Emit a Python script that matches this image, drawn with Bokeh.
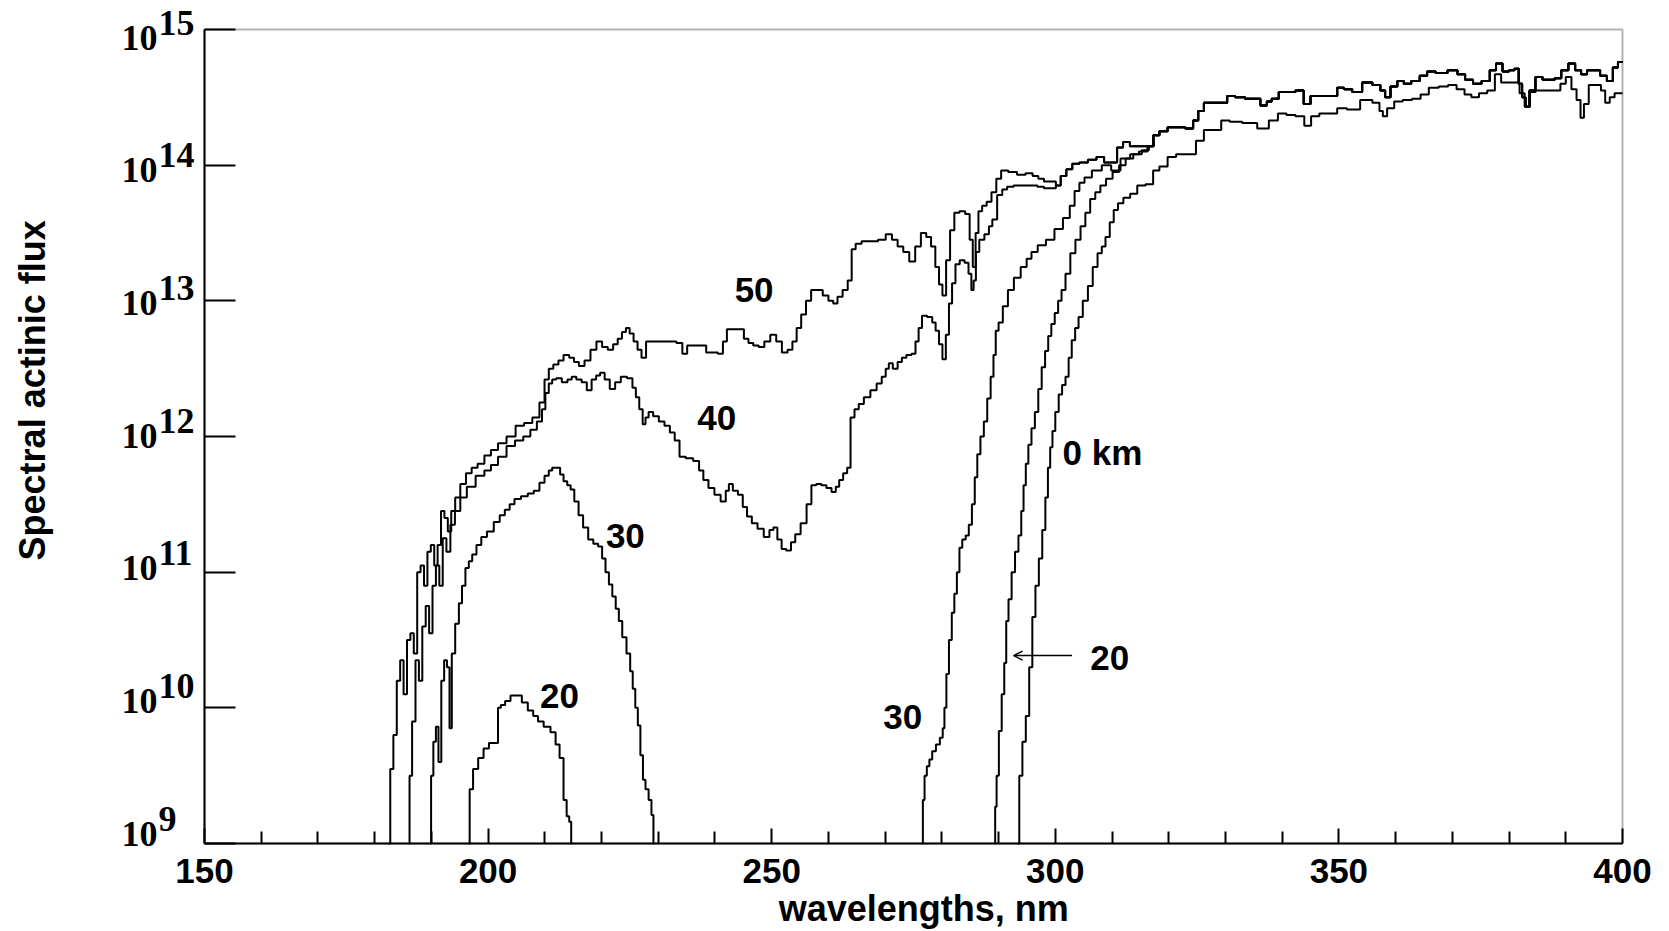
import numpy as np
from bokeh.plotting import figure
from bokeh.models import (Range1d, FixedTicker, Label, LabelSet, ColumnDataSource,
                          Arrow, OpenHead, CustomJSTickFormatter, BoxAnnotation)
from bokeh.embed import file_html
from bokeh.resources import INLINE

# Spectral actinic flux at several altitudes.
# Each entry: (wavelength in nm, log10 of flux).

km50 = [
    (182.5, 9.0), (183.0, 9.55), (183.6, 9.8), (184.2, 10.2), (184.8, 10.35), (185.4, 10.1),
    (186.0, 10.5), (186.6, 10.55), (187.2, 10.4), (187.8, 11.0), (188.4, 11.05), (189.0, 10.9),
    (189.6, 11.15), (190.2, 11.2), (190.8, 11.05), (191.4, 11.2), (192.0, 11.45), (192.6, 11.4),
    (193.2, 11.3), (193.8, 11.45), (194.6, 11.55), (195.6, 11.65), (196.6, 11.73), (197.6, 11.77),
    (198.7, 11.8), (200.0, 11.86), (201.0, 11.9), (202.5, 11.95), (204.0, 12.0), (205.7, 12.08),
    (207.0, 12.1), (208.6, 12.14), (209.5, 12.25), (210.4, 12.42), (211.0, 12.5), (212.0, 12.53),
    (212.8, 12.56), (213.8, 12.6), (214.8, 12.58), (215.5, 12.55), (216.5, 12.52), (217.5, 12.56),
    (218.6, 12.64), (219.6, 12.7), (220.6, 12.66), (221.6, 12.64), (222.5, 12.68), (223.2, 12.72),
    (224.0, 12.77), (224.6, 12.8), (225.3, 12.76), (226.0, 12.7), (226.7, 12.64), (227.4, 12.58),
    (228.3, 12.7), (229.5, 12.7), (231.0, 12.7), (232.5, 12.7), (233.9, 12.69), (234.6, 12.61),
    (235.6, 12.67), (236.8, 12.67), (238.0, 12.67), (238.9, 12.62), (240.0, 12.62), (241.0, 12.61),
    (241.8, 12.7), (242.4, 12.79), (243.5, 12.79), (244.7, 12.79), (245.5, 12.72), (246.3, 12.69),
    (247.2, 12.67), (248.2, 12.66), (249.2, 12.7), (250.3, 12.75), (251.3, 12.7), (252.3, 12.62),
    (253.3, 12.64), (254.0, 12.7), (254.8, 12.8), (255.6, 12.9), (256.5, 13.0), (257.4, 13.08),
    (258.5, 13.08), (259.5, 13.04), (260.5, 13.0), (261.2, 12.98), (262.0, 13.03), (263.0, 13.08),
    (263.8, 13.15), (264.4, 13.38), (265.2, 13.42), (266.5, 13.44), (268.0, 13.44), (269.5, 13.45),
    (270.7, 13.49), (271.7, 13.45), (272.7, 13.4), (273.7, 13.36), (274.8, 13.29), (275.8, 13.4),
    (276.8, 13.5), (277.7, 13.47), (278.5, 13.4), (279.2, 13.25), (279.8, 13.12), (280.4, 13.04),
    (281.1, 13.3), (281.8, 13.52), (282.6, 13.65), (283.6, 13.66), (284.6, 13.64), (285.2, 13.45),
    (285.7, 13.25), (286.2, 13.5), (286.7, 13.66), (287.5, 13.7), (288.3, 13.73), (289.2, 13.8),
    (290.0, 13.9), (290.9, 13.96), (292.5, 13.95), (294.0, 13.93), (295.5, 13.94), (296.5, 13.92),
    (297.5, 13.9), (298.5, 13.88), (299.7, 13.88), (300.5, 13.85), (301.4, 13.92), (302.5, 13.97),
    (303.5, 14.01), (305.0, 14.02), (306.5, 14.04), (308.0, 14.06), (309.2, 14.02), (310.3, 14.02),
    (311.5, 14.13), (312.4, 14.17), (313.9, 14.14), (316.8, 14.14), (317.7, 14.22), (319.0, 14.25),
    (320.6, 14.28), (322.0, 14.28), (323.8, 14.27), (324.8, 14.33), (325.6, 14.4), (326.8, 14.46),
    (328.0, 14.46), (329.7, 14.46), (330.9, 14.51), (332.5, 14.5), (334.4, 14.49), (335.5, 14.49),
    (336.8, 14.44), (337.8, 14.47), (338.5, 14.49), (340.3, 14.54), (341.5, 14.54), (343.2, 14.55),
    (344.4, 14.45), (345.6, 14.51), (347.0, 14.51), (349.1, 14.51), (350.3, 14.57), (351.5, 14.56),
    (353.2, 14.54), (355.0, 14.61), (356.8, 14.59), (357.8, 14.55), (358.5, 14.5), (359.7, 14.58),
    (360.9, 14.62), (362.0, 14.6), (363.5, 14.62), (365.0, 14.66), (366.1, 14.69), (368.0, 14.68),
    (370.3, 14.7), (371.5, 14.67), (373.0, 14.63), (374.3, 14.6), (376.0, 14.62), (377.2, 14.7),
    (378.2, 14.75), (379.5, 14.69), (380.5, 14.7), (381.4, 14.71), (382.0, 14.6), (382.6, 14.5),
    (383.2, 14.43), (384.0, 14.55), (385.3, 14.65), (386.5, 14.63), (387.5, 14.63), (388.6, 14.64),
    (389.8, 14.7), (391.1, 14.75), (392.2, 14.7), (393.2, 14.67), (394.3, 14.7), (395.5, 14.7),
    (396.6, 14.66), (397.9, 14.62), (398.7, 14.72), (399.7, 14.76), (400.0, 14.76),
]

# 40 km: below 50 km through the Hartley band, the same as 50 km beyond ~301 nm
km40 = [
    (186.0, 9.0), (186.3, 9.5), (186.9, 9.9), (187.5, 10.35), (188.1, 10.2), (188.7, 10.6),
    (189.3, 10.75), (189.9, 10.55), (190.5, 10.9), (191.1, 11.05), (191.7, 10.9), (192.3, 11.25),
    (193.0, 11.15), (193.7, 11.35), (194.6, 11.45), (195.6, 11.55), (196.9, 11.63), (198.7, 11.71),
    (200.0, 11.75), (201.0, 11.79), (202.5, 11.85), (204.0, 11.93), (205.5, 11.97), (206.9, 12.0),
    (208.0, 12.05), (209.2, 12.11), (209.8, 12.2), (210.4, 12.32), (211.0, 12.39), (211.6, 12.42),
    (212.4, 12.43), (213.6, 12.4), (214.4, 12.42), (215.1, 12.44), (216.0, 12.42), (217.0, 12.4),
    (217.8, 12.34), (218.7, 12.42), (219.4, 12.45), (220.1, 12.47), (221.0, 12.42), (221.9, 12.35),
    (222.9, 12.4), (223.9, 12.44), (225.1, 12.43), (225.8, 12.36), (226.3, 12.29), (227.0, 12.2),
    (227.5, 12.09), (228.0, 12.14), (228.6, 12.18), (229.6, 12.15), (230.6, 12.11), (231.6, 12.08),
    (232.5, 12.03), (233.3, 11.97), (234.2, 11.85), (235.5, 11.84), (236.8, 11.82), (237.6, 11.75),
    (238.3, 11.68), (239.4, 11.62), (240.4, 11.57), (241.6, 11.52), (242.2, 11.6), (242.7, 11.65),
    (243.6, 11.6), (244.5, 11.57), (245.3, 11.48), (246.0, 11.41), (247.0, 11.36), (248.0, 11.32),
    (249.2, 11.26), (250.0, 11.31), (250.6, 11.33), (251.4, 11.24), (252.1, 11.17), (253.0, 11.16),
    (253.8, 11.22), (254.5, 11.28), (255.7, 11.36), (256.6, 11.5), (257.4, 11.64), (258.3, 11.65),
    (259.2, 11.64), (260.1, 11.62), (261.0, 11.59), (261.6, 11.63), (262.2, 11.68), (263.0, 11.73),
    (263.6, 11.77), (264.2, 12.14), (265.0, 12.2), (265.7, 12.24), (266.8, 12.29), (268.0, 12.34),
    (269.0, 12.39), (269.8, 12.44), (270.4, 12.5), (270.9, 12.54), (271.8, 12.5), (272.6, 12.55),
    (273.3, 12.58), (274.2, 12.6), (275.1, 12.61), (275.6, 12.7), (276.2, 12.8), (276.8, 12.89),
    (278.0, 12.88), (278.6, 12.84), (279.2, 12.78), (279.8, 12.68), (280.4, 12.57), (281.0, 12.75),
    (281.5, 12.98), (282.1, 13.13), (282.7, 13.27), (283.6, 13.3), (284.4, 13.28), (285.0, 13.2),
    (285.4, 13.08), (285.8, 13.15), (286.2, 13.36), (287.0, 13.45), (288.0, 13.49), (288.6, 13.55),
    (289.2, 13.6), (290.3, 13.78), (291.0, 13.82), (292.0, 13.84), (293.3, 13.85), (294.5, 13.85),
    (296.2, 13.85), (297.5, 13.84), (298.5, 13.83), (299.7, 13.83), (300.5, 13.85),
]

# 30 km: short-wave window and the long-wave rise (joins 50 km above ~317 nm)
km30_short = [
    (189.8, 9.0), (190.1, 9.5), (190.6, 9.75), (191.0, 9.86), (191.5, 9.6), (192.0, 10.2),
    (192.5, 10.35), (193.0, 10.3), (193.4, 9.85), (193.8, 10.4), (194.6, 10.62), (195.1, 10.77),
    (195.7, 10.9), (196.3, 11.03), (196.9, 11.08), (197.5, 11.13), (198.4, 11.2), (199.2, 11.26),
    (200.4, 11.3), (201.6, 11.37), (202.5, 11.42), (203.4, 11.46), (204.2, 11.5), (205.1, 11.54),
    (206.5, 11.56), (207.5, 11.58), (208.6, 11.6), (209.5, 11.66), (210.4, 11.71), (211.0, 11.75),
    (211.6, 11.77), (212.4, 11.77), (213.0, 11.72), (213.6, 11.67), (214.3, 11.64), (214.8, 11.61),
    (215.6, 11.52), (216.3, 11.42), (217.2, 11.33), (218.1, 11.24), (219.0, 11.21), (219.8, 11.19),
    (220.4, 11.1), (221.0, 11.0), (221.6, 10.91), (222.2, 10.82), (222.8, 10.73), (223.3, 10.64),
    (224.0, 10.52), (224.8, 10.4), (225.3, 10.27), (225.7, 10.14), (226.2, 10.0), (226.6, 9.87),
    (227.1, 9.65), (227.5, 9.47), (228.0, 9.4), (228.6, 9.32), (229.0, 9.21), (229.3, 9.0),
]
km30_long = [
    (276.5, 9.0), (276.8, 9.32), (277.1, 9.5), (277.6, 9.57), (278.0, 9.62), (278.6, 9.68),
    (279.3, 9.73), (280.0, 9.78), (280.3, 9.85), (280.6, 10.0), (281.0, 10.25), (281.5, 10.5),
    (282.0, 10.7), (282.4, 10.84), (282.9, 11.0), (283.3, 11.18), (283.9, 11.24), (284.5, 11.27),
    (285.0, 11.35), (285.6, 11.5), (286.0, 11.7), (286.5, 11.87), (287.1, 12.0), (287.7, 12.11),
    (288.3, 12.28), (288.9, 12.44), (289.3, 12.6), (289.7, 12.78), (290.3, 12.84), (291.2, 12.96),
    (292.1, 13.08), (293.3, 13.17), (294.5, 13.25), (295.4, 13.31), (296.2, 13.36), (297.6, 13.41),
    (299.1, 13.45), (300.6, 13.53), (302.1, 13.61), (303.0, 13.7), (303.8, 13.81), (304.7, 13.87),
    (305.6, 13.91), (307.3, 13.96), (309.1, 14.0), (310.6, 13.96), (312.4, 14.05), (314.0, 14.08),
    (315.5, 14.1), (317.0, 14.14),
]

# 20 km: small short-wave window and the long-wave rise (joins 50 km above ~317 nm)
km20_short = [
    (196.6, 9.0), (196.9, 9.4), (197.8, 9.55), (198.7, 9.63), (199.7, 9.7), (200.6, 9.74),
    (201.6, 9.74), (201.9, 10.0), (202.6, 10.02), (203.4, 10.05), (204.5, 10.09), (205.4, 10.09),
    (206.5, 10.04), (207.5, 9.98), (208.4, 9.94), (209.2, 9.9), (210.4, 9.86), (211.6, 9.82),
    (212.2, 9.73), (213.0, 9.63), (213.6, 9.32), (214.1, 9.2), (214.5, 9.16), (214.8, 9.0),
]
km20_long = [
    (289.3, 9.0), (289.5, 9.27), (289.8, 9.5), (290.3, 9.83), (290.8, 10.1), (291.2, 10.33),
    (291.5, 10.64), (292.0, 10.8), (292.6, 11.0), (293.2, 11.15), (293.8, 11.27), (294.2, 11.45),
    (294.6, 11.64), (295.0, 11.8), (295.5, 11.94), (296.1, 12.06), (296.7, 12.18), (297.3, 12.35),
    (297.9, 12.51), (298.5, 12.63), (299.0, 12.74), (299.6, 12.83), (300.2, 12.91), (300.8, 13.0),
    (301.4, 13.08), (302.2, 13.2), (303.1, 13.35), (304.0, 13.45), (304.9, 13.55), (305.7, 13.65),
    (306.6, 13.75), (307.5, 13.8), (308.4, 13.85), (309.5, 13.9), (310.7, 13.95), (311.8, 14.0),
    (313.0, 14.05), (314.5, 14.08), (316.0, 14.11), (317.0, 14.14),
]

# ground level
km0 = [
    (293.4, 9.0), (293.9, 9.5), (294.5, 9.75), (295.1, 9.94), (295.7, 10.3),
    (296.2, 10.67), (296.8, 10.9), (297.4, 11.1), (298.0, 11.31), (298.5, 11.55), (298.9, 11.77),
    (299.3, 11.92), (299.7, 12.04), (300.3, 12.18), (300.9, 12.31), (301.5, 12.38), (302.1, 12.44),
    (302.6, 12.58), (303.2, 12.71), (303.8, 12.8), (304.4, 12.88), (305.3, 13.0), (306.2, 13.11),
    (307.0, 13.25), (307.9, 13.35), (308.5, 13.4), (309.2, 13.47), (310.0, 13.58), (310.6, 13.67),
    (311.5, 13.72), (312.5, 13.76), (313.9, 13.79), (315.0, 13.85), (316.8, 13.86), (317.7, 13.96),
    (319.0, 13.99), (320.6, 14.06), (322.0, 14.08), (324.0, 14.08), (325.6, 14.18), (326.8, 14.26),
    (328.5, 14.26), (330.0, 14.33), (331.5, 14.32), (334.4, 14.31), (336.8, 14.27), (338.5, 14.33),
    (340.0, 14.38), (341.5, 14.37), (343.2, 14.36), (344.6, 14.29), (345.6, 14.36), (347.5, 14.38),
    (349.1, 14.38), (350.3, 14.42), (352.5, 14.41), (355.0, 14.48), (356.8, 14.46), (357.5, 14.4),
    (358.0, 14.36), (359.0, 14.42), (360.5, 14.47), (362.0, 14.48), (363.8, 14.49), (365.0, 14.52),
    (366.7, 14.57), (368.5, 14.58), (370.0, 14.59), (371.5, 14.56), (372.8, 14.52), (373.9, 14.5),
    (375.5, 14.53), (376.8, 14.55), (378.2, 14.67), (379.0, 14.61), (380.2, 14.61), (381.4, 14.61),
    (382.3, 14.53), (383.2, 14.43), (384.2, 14.54), (385.2, 14.55), (386.2, 14.55), (387.5, 14.55),
    (388.6, 14.55), (389.5, 14.6), (390.5, 14.65), (391.5, 14.56), (392.3, 14.48), (392.9, 14.35),
    (393.5, 14.45), (394.6, 14.59), (395.8, 14.59), (396.6, 14.55), (397.3, 14.46), (398.2, 14.5),
    (399.0, 14.53), (400.0, 14.53),
]

x_major = [150, 200, 250, 300, 350, 400]
x_minor = [w for w in range(160, 400, 10) if w % 50]
y_exponents = [9, 10, 11, 12, 13, 14, 15]

curve_text = ["50", "40", "30", "20", "0 km", "20", "30"]


def merged(own, upper):
    """Own points, then the upper trace from where the own points stop."""
    last = own[-1][0]
    return own + [pt for pt in upper if pt[0] > last]


def split(points):
    wl = [w for w, _ in points]
    fx = [10.0 ** lg for _, lg in points]
    return wl, fx


# page geometry: the data box sits at these pixel edges of the canvas
W, H = 1669, 931
BOX_L, BOX_R, BOX_T, BOX_B = 204, 1622, 29, 843
X0, X1 = x_major[0], x_major[-1]
E0, E1 = y_exponents[0], y_exponents[-1]
px_per_nm = (BOX_R - BOX_L) / (X1 - X0)
px_per_dec = (BOX_B - BOX_T) / (E1 - E0)
x_lo = X0 - BOX_L / px_per_nm
x_hi = X1 + (W - BOX_R) / px_per_nm
e_hi = E1 + BOX_T / px_per_dec
e_lo = E0 - (H - BOX_B) / px_per_dec

p = figure(width=W, height=H,
           x_range=Range1d(x_lo, x_hi), y_range=Range1d(10.0 ** e_lo, 10.0 ** e_hi),
           y_axis_type="log", output_backend="svg", toolbar_location=None,
           min_border=0)
if p.title is not None:
    p.title.visible = False
p.grid.visible = False
p.background_fill_color = "white"
p.border_fill_color = "white"
p.outline_line_color = None

# x axis, pinned to the bottom of the data box
xax = p.xaxis[0]
xax.fixed_location = 10.0 ** E0
xax.bounds = (X0, X1)
xax.ticker = FixedTicker(ticks=x_major, minor_ticks=x_minor)
xax.axis_line_width = 2
xax.major_tick_in = 15
xax.major_tick_out = 0
xax.minor_tick_in = 12
xax.minor_tick_out = 0
xax.major_tick_line_width = 2
xax.minor_tick_line_width = 2
xax.major_label_standoff = 15
xax.major_label_text_font = "Liberation Sans"
xax.major_label_text_font_style = "bold"
xax.major_label_text_font_size = "35px"
xax.major_label_text_color = "black"

# y axis, pinned to the left of the data box; labels are drawn as 10 + raised exponent
y_ticks = [10.0 ** e for e in y_exponents]
yax = p.yaxis[0]
yax.fixed_location = X0
yax.bounds = (10.0 ** E0, 10.0 ** E1)
yax.ticker = FixedTicker(ticks=y_ticks, minor_ticks=[])
yax.axis_line_width = 2
yax.major_tick_in = 31
yax.major_tick_out = 0
yax.minor_tick_in = 0
yax.minor_tick_out = 0
yax.major_tick_line_width = 2
yax.formatter = CustomJSTickFormatter(code="return ''")

# closed frame around the data
p.add_layout(BoxAnnotation(left=X0, right=X1, bottom=10.0 ** E0, top=10.0 ** E1,
                           fill_color=None, line_color="black", line_width=2))

for pts in (km0, km20_short, merged(km20_long, km50), km30_short,
            merged(km30_long, km50), merged(km40, km50), km50):
    wl, fx = split(pts)
    p.step(wl, fx, mode="center", line_color="black", line_width=2)

# decade labels: the column of labels is spread a little tighter than the ticks,
# with the exponent raised above the "10"
base_dy = [3 * (E1 - e) - 8 for e in y_exponents]
tick_src = ColumnDataSource(dict(
    x=[X0] * len(y_ticks), y=y_ticks,
    base=["10"] * len(y_ticks), expo=[str(e) for e in y_exponents],
    dy_base=base_dy, dy_expo=[d + 15 for d in base_dy]))
p.add_layout(LabelSet(x="x", y="y", text="base", source=tick_src,
                      x_offset=-47, y_offset="dy_base", text_align="right",
                      text_baseline="middle", text_font="Liberation Serif",
                      text_font_style="bold", text_font_size="36px",
                      text_color="black"))
p.add_layout(LabelSet(x="x", y="y", text="expo", source=tick_src,
                      x_offset=-46, y_offset="dy_expo", text_align="left",
                      text_baseline="middle", text_font="Liberation Serif",
                      text_font_style="bold", text_font_size="36px",
                      text_color="black"))

label_wl = [246.9, 240.3, 224.2, 212.6, 308.3, 309.6, 273.1]
label_lg = [13.08, 12.14, 11.27, 10.09, 11.88, 10.37, 9.93]
for txt, wl, lg in zip(curve_text, label_wl, label_lg):
    p.add_layout(Label(x=wl, y=10.0 ** lg, text=txt, text_align="center",
                       text_baseline="middle", text_font="Liberation Sans",
                       text_font_style="bold", text_font_size="35px",
                       text_color="black"))

# arrow pointing at the 20 km curve
p.add_layout(Arrow(x_start=302.96, y_start=10.0 ** 10.385,
                   x_end=292.66, y_end=10.0 ** 10.385,
                   line_color="black", line_width=1.5,
                   end=OpenHead(size=9, line_color="black", line_width=1.5)))

# axis titles
p.add_layout(Label(x=276.8, y=10.0 ** E0, y_offset=-65, text="wavelengths, nm",
                   text_align="center", text_baseline="middle",
                   text_font="Liberation Sans", text_font_style="bold",
                   text_font_size="36px", text_color="black"))
p.add_layout(Label(x=X0, y=10.0 ** 12.34, x_offset=-172, text="Spectral actinic flux",
                   angle=np.pi / 2, text_align="center", text_baseline="middle",
                   text_font="Liberation Sans", text_font_style="bold",
                   text_font_size="36px", text_color="black"))

open("out.html", "w").write(file_html(p, INLINE))
